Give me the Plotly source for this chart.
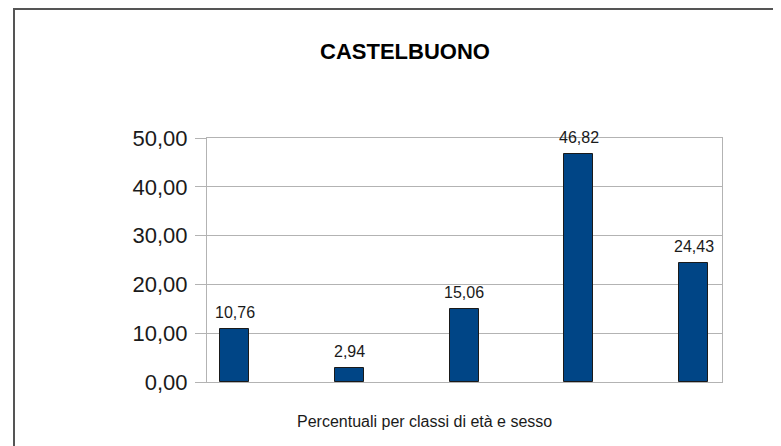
import plotly.graph_objects as go

categories = ["Classe 1", "Classe 2", "Classe 3", "Classe 4", "Classe 5"]
values = [10.76, 2.94, 15.06, 46.82, 24.43]
y_ticks = [0, 10, 20, 30, 40, 50]
title_text = "CASTELBUONO"
x_title = "Percentuali per classi di età e sesso"

FONT = "Liberation Sans, Arial, sans-serif"
OFF = 8  # page body margin in the browser
W, H = 781 - OFF, 446 - OFF
# plot area in reference page pixels: x 207..722, y 138..382
L, R, T, B = 207 - OFF, W - (722 - OFF), 138 - OFF, H - (382 - OFF)
pw, ph = W - L - R, H - T - B

def px_to_paper_x(px):
    return (px - OFF - L) / pw

def px_to_paper_y(py):
    return (H - B - (py - OFF)) / ph

fig = go.Figure()
fig.add_trace(go.Bar(
    x=list(range(len(categories))),
    y=values,
    width=0.253,
    marker=dict(color="#004586", line=dict(color="#1a1a1a", width=1)),
    hovertext=categories,
    hoverinfo="text+y",
))

for i, v in enumerate(values):
    fig.add_annotation(
        x=i, y=v, xref="x", yref="y",
        text=f"{v:.2f}".replace(".", ","),
        showarrow=False, yanchor="bottom", yshift=6,
        font=dict(family=FONT, size=16, color="#1a1a1a"),
    )

fig.add_annotation(
    x=px_to_paper_x(404.5), y=px_to_paper_y(51), xref="paper", yref="paper",
    text=f"<b>{title_text}</b>", showarrow=False,
    xanchor="center", yanchor="middle",
    font=dict(family=FONT, size=22, color="#000000"),
)
fig.add_annotation(
    x=px_to_paper_x(424), y=px_to_paper_y(421.5), xref="paper", yref="paper",
    text=x_title, showarrow=False,
    xanchor="center", yanchor="middle",
    font=dict(family=FONT, size=16, color="#1a1a1a"),
)

# outer frame (left and top edges visible)
fig.add_shape(type="line", xref="paper", yref="paper",
              x0=px_to_paper_x(14), x1=px_to_paper_x(14),
              y0=px_to_paper_y(9), y1=px_to_paper_y(460),
              line=dict(color="#555555", width=2))
fig.add_shape(type="line", xref="paper", yref="paper",
              x0=px_to_paper_x(13), x1=px_to_paper_x(800),
              y0=px_to_paper_y(9), y1=px_to_paper_y(9),
              line=dict(color="#555555", width=2))

fig.update_layout(
    width=W, height=H,
    margin=dict(l=L, r=R, t=T, b=B, pad=0),
    paper_bgcolor="white", plot_bgcolor="white",
    showlegend=False,
    separators=",.",
    font=dict(family=FONT),
    bargap=0,
)
fig.update_xaxes(
    range=[-0.24, 4.248], showticklabels=False, ticks="",
    showgrid=False, zeroline=False,
    showline=True, linecolor="#b3b3b3", linewidth=1, mirror=True,
)
fig.update_yaxes(
    range=[0, 50], tickvals=y_ticks, tickformat=".2f",
    ticks="outside", ticklen=11, tickcolor="#b3b3b3", tickwidth=1,
    ticklabelstandoff=3,
    tickfont=dict(family=FONT, size=22, color="#1a1a1a"),
    showgrid=True, gridcolor="#b3b3b3", gridwidth=1,
    zeroline=False,
    showline=True, linecolor="#b3b3b3", linewidth=1, mirror=True,
)

fig.write_html("out.html")
